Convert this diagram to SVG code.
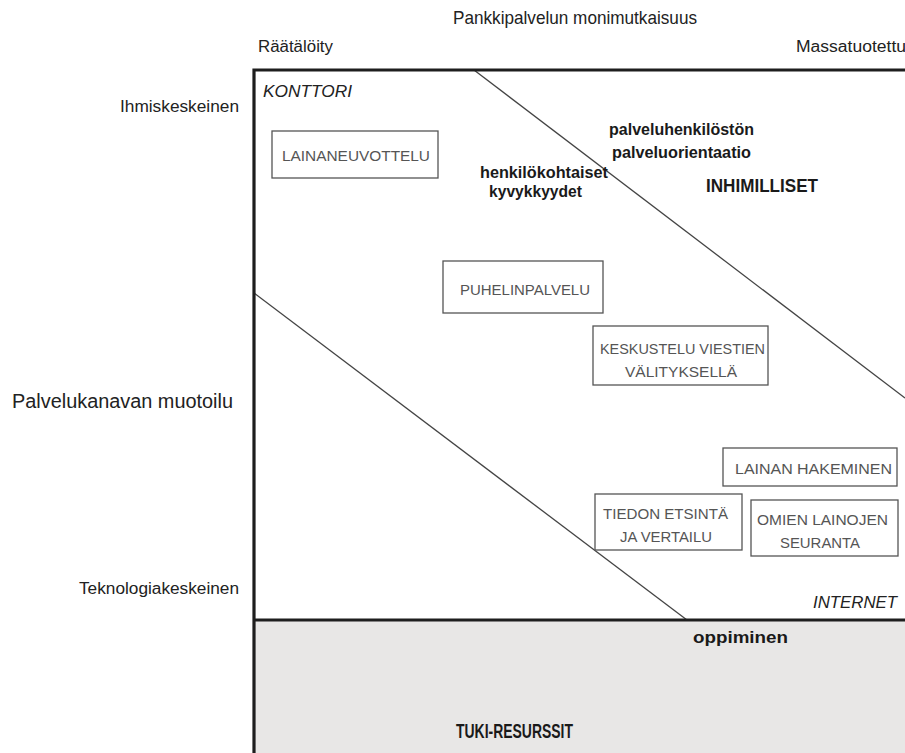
<svg xmlns="http://www.w3.org/2000/svg" width="905" height="753" viewBox="0 0 905 753">
  <style>
    .lbl { font-family: "Liberation Sans", Arial, sans-serif; fill: #222; }
    .ax { font-size: 16px; }
    .zone { font-size: 17px; font-style: italic; fill: #222; }
    .box rect { fill: #fff; stroke: #555; stroke-width: 1.3; }
    .box text { font-family: "Liberation Sans", Arial, sans-serif; font-size: 15.5px; fill: #555; }
    .bold { font-family: "Liberation Sans", Arial, sans-serif; font-weight: bold; fill: #1a1a1a; }
    .div { stroke: #444; stroke-width: 1.3; fill: none; }
    .frame { stroke: #1e1e1e; stroke-width: 3.2; fill: none; }
  </style>

  <rect width="905" height="753" fill="#fff"/>

  <!-- support resources band -->
  <rect x="254" y="620" width="651" height="133" fill="#e8e7e6"/>

  <!-- axis titles -->
  <g id="axis-labels" class="lbl">
    <text x="453" y="24" font-size="18.5" textLength="244" lengthAdjust="spacingAndGlyphs">Pankkipalvelun monimutkaisuus</text>
    <text class="ax" x="258" y="52" textLength="75" lengthAdjust="spacingAndGlyphs">Räätälöity</text>
    <text class="ax" x="796" y="52" textLength="110" lengthAdjust="spacingAndGlyphs">Massatuotettu</text>
    <text class="ax" x="120" y="112" textLength="119" lengthAdjust="spacingAndGlyphs">Ihmiskeskeinen</text>
    <text x="12" y="408" font-size="19.5" textLength="221" lengthAdjust="spacingAndGlyphs">Palvelukanavan muotoilu</text>
    <text class="ax" x="79" y="594" textLength="160" lengthAdjust="spacingAndGlyphs">Teknologiakeskeinen</text>
  </g>

  <!-- zone dividers -->
  <g id="connectors">
    <line class="div" x1="474" y1="70" x2="905" y2="398"/>
    <line class="div" x1="254" y1="293" x2="687" y2="620"/>
  </g>

  <!-- frame -->
  <g id="frame">
    <polyline class="frame" points="254,753 254,70 905,70"/>
    <line class="frame" x1="254" y1="620" x2="905" y2="620" stroke-width="4"/>
  </g>

  <!-- zone names -->
  <g id="zone-konttori" class="lbl">
    <text class="zone" x="263" y="97" textLength="89" lengthAdjust="spacingAndGlyphs">KONTTORI</text>
  </g>
  <g id="zone-internet" class="lbl">
    <text class="zone" x="813" y="608" textLength="84" lengthAdjust="spacingAndGlyphs">INTERNET</text>
  </g>

  <!-- human resource labels -->
  <g id="palveluorientaatio" class="bold" font-size="16.5">
    <text x="609" y="135" textLength="145" lengthAdjust="spacingAndGlyphs">palveluhenkilöstön</text>
    <text x="612" y="158" textLength="139" lengthAdjust="spacingAndGlyphs">palveluorientaatio</text>
  </g>
  <g id="kyvykkyydet" class="bold" font-size="16.5">
    <text x="480" y="178" textLength="128" lengthAdjust="spacingAndGlyphs">henkilökohtaiset</text>
    <text x="489" y="197" textLength="93" lengthAdjust="spacingAndGlyphs">kyvykkyydet</text>
  </g>
  <g id="inhimilliset" class="bold" font-size="18.5">
    <text x="706" y="192" textLength="112" lengthAdjust="spacingAndGlyphs">INHIMILLISET</text>
  </g>
  <g id="oppiminen" class="bold" font-size="16.5">
    <text x="693" y="643" textLength="95" lengthAdjust="spacingAndGlyphs">oppiminen</text>
  </g>
  <g id="tuki-resurssit" class="bold" font-size="20">
    <text x="456" y="738" textLength="117" lengthAdjust="spacingAndGlyphs">TUKI-RESURSSIT</text>
  </g>

  <!-- service channels -->
  <g id="lainaneuvottelu" class="box">
    <rect x="272" y="131" width="166" height="47"/>
    <text x="282" y="161" textLength="148" lengthAdjust="spacingAndGlyphs">LAINANEUVOTTELU</text>
  </g>
  <g id="puhelinpalvelu" class="box">
    <rect x="443" y="261" width="160" height="52"/>
    <text x="460" y="295" textLength="130" lengthAdjust="spacingAndGlyphs">PUHELINPALVELU</text>
  </g>
  <g id="keskustelu" class="box">
    <rect x="593" y="326" width="175" height="59"/>
    <text x="600" y="354" textLength="165" lengthAdjust="spacingAndGlyphs">KESKUSTELU VIESTIEN</text>
    <text x="625" y="377" textLength="112" lengthAdjust="spacingAndGlyphs">VÄLITYKSELLÄ</text>
  </g>
  <g id="lainan-hakeminen" class="box">
    <rect x="723" y="448" width="174" height="38"/>
    <text x="735" y="474" textLength="157" lengthAdjust="spacingAndGlyphs">LAINAN HAKEMINEN</text>
  </g>
  <g id="tiedon-etsinta" class="box">
    <rect x="595" y="494" width="147" height="56"/>
    <text x="603" y="519" textLength="125" lengthAdjust="spacingAndGlyphs">TIEDON ETSINTÄ</text>
    <text x="620" y="542" textLength="92" lengthAdjust="spacingAndGlyphs">JA VERTAILU</text>
  </g>
  <g id="omien-lainojen-seuranta" class="box">
    <rect x="751" y="500" width="147" height="56"/>
    <text x="757" y="525" textLength="131" lengthAdjust="spacingAndGlyphs">OMIEN LAINOJEN</text>
    <text x="780" y="548" textLength="80" lengthAdjust="spacingAndGlyphs">SEURANTA</text>
  </g>
</svg>
